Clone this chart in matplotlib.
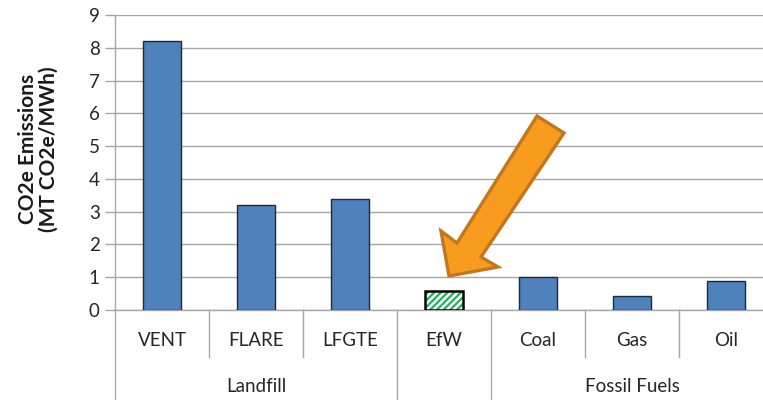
import matplotlib
matplotlib.use("Agg")
import matplotlib.pyplot as plt
from matplotlib.patches import Polygon

plt.rcParams["font.family"] = ["Lato", "DejaVu Sans"]
plt.rcParams["hatch.linewidth"] = 1.6

categories = ["VENT", "FLARE", "LFGTE", "EfW", "Coal", "Gas", "Oil"]
values = [8.2, 3.2, 3.4, 0.57, 1.0, 0.42, 0.87]
groups = ["Landfill", "", "Fossil Fuels"]
group_spans = [(0, 2), (3, 3), (4, 6)]
highlight = "EfW"
y_ticks = list(range(0, 10))

W, H = 763, 400
fig = plt.figure(figsize=(W / 100, H / 100), dpi=100)
ax = fig.add_axes([115 / W, (H - 310) / H, 658 / W, 295 / H])

plain_x = [i for i, c in enumerate(categories) if c != highlight]
plain_v = [values[i] for i in plain_x]
hi_i = categories.index(highlight)

ax.bar(plain_x, plain_v, width=0.4, color="#4F81BD", edgecolor="#1C2A3A",
       linewidth=1.0, zorder=3)
# hatched bar: green hatch, then a black outline on top
ax.bar([hi_i], [values[hi_i]], width=0.4, color="white", edgecolor="#1DB35A",
       hatch="/////", linewidth=0, zorder=3)
ax.bar([hi_i], [values[hi_i]], width=0.4, color="none", edgecolor="black",
       linewidth=1.8, zorder=4)

ax.set_xlim(-0.5, len(categories) - 0.5)
ax.set_ylim(0, 9)
ax.set_yticks(y_ticks)
ax.set_yticklabels([str(t) for t in y_ticks], fontsize=13.5, color="#262626")
ax.tick_params(axis="y", length=7, color="#A6A6A6", width=1, pad=4)
ax.tick_params(axis="x", bottom=False, labelbottom=False)
ax.grid(axis="y", color="#A6A6A6", linewidth=1.0, zorder=0)
ax.set_axisbelow(True)
for s in ["top", "right"]:
    ax.spines[s].set_visible(False)
for s in ["left", "bottom"]:
    ax.spines[s].set_color("#A6A6A6")
    ax.spines[s].set_linewidth(1.0)

ax.set_ylabel("CO2e Emissions\n(MT CO2e/MWh)", fontsize=15, fontweight="bold",
              color="#1a1a1a", linespacing=1.05)
ax.yaxis.set_label_coords(-0.085, 0.545)

# two-level category axis
tr = ax.get_xaxis_transform()
line_kw = dict(color="#A6A6A6", linewidth=1.0, transform=tr, clip_on=False)
y1 = -47 / 295
y2 = -95 / 295
for i, c in enumerate(categories):
    ax.text(i, -31 / 295, c, transform=tr, ha="center", va="center",
            fontsize=13.5, color="#262626")
for k in range(len(categories) + 1):
    xb = k - 0.5
    is_group_edge = any(xb == a - 0.5 for a, b in group_spans) or xb == len(categories) - 0.5
    ax.plot([xb, xb], [0, y2 if is_group_edge else y1], **line_kw)
for name, (a, b) in zip(groups, group_spans):
    if name:
        ax.text((a + b) / 2, -76 / 295, name, transform=tr, ha="center",
                va="center", fontsize=13.5, color="#262626")

# callout arrow pointing at the highlighted bar
pts_px = [(449, 276), (441, 231), (457, 243), (537, 116), (564, 133),
          (481, 257), (498, 267)]
pts = [(px / W, 1 - py / H) for px, py in pts_px]
fig.patches.append(Polygon(pts, closed=True, transform=fig.transFigure,
                           facecolor="#F89B1F", edgecolor="#C2771F",
                           linewidth=2.4, joinstyle="miter", zorder=10))

fig.savefig("out.png", dpi=100)
